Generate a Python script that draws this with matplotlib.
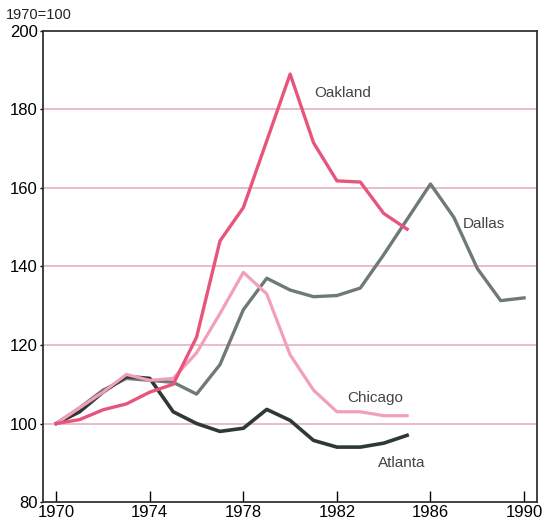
import matplotlib.pyplot as plt

years = list(range(1970, 1991))

oakland = [100, 101, 103.5, 105, 108, 110, 122, 146.5, 155, 172, 189,
           171.5, 161.8, 161.5, 153.5, 149.5]
chicago = [100, 104, 108, 112.5, 111, 111.5, 118, 128, 138.5, 133, 117.5,
           108.5, 103, 103, 102, 102]
dallas = [100, 104, 108.5, 111.5, 111, 110.5, 107.5, 115, 129, 137, 134,
          132.3, 132.6, 134.5, 143, 152, 161, 152.5, 139.5, 131.3, 132]
atlanta = [100, 103, 108, 112, 111.5, 103, 100, 98, 98.8, 103.6, 100.8,
           95.7, 94, 94, 95, 97]

yticks = [80, 100, 120, 140, 160, 180, 200]
xticks = [1970, 1974, 1978, 1982, 1986, 1990]

plt.rcParams['font.family'] = ['Liberation Sans', 'DejaVu Sans']

fig = plt.figure(figsize=(5.49, 5.23), dpi=100)
ax = fig.add_axes([0.079, 0.040, 0.899, 0.901])

for y in [100, 120, 140, 160, 180]:
    ax.axhline(y, color='#e3a9c2', lw=1.1, zorder=1)

ax.plot(years[:len(dallas)], dallas, color='#6f7a77', lw=2.4, zorder=3)
ax.plot(years[:len(atlanta)], atlanta, color='#2e3935', lw=2.6, zorder=4)
ax.plot(years[:len(chicago)], chicago, color='#f29fba', lw=2.3, zorder=5)
ax.plot(years[:len(oakland)], oakland, color='#e8557c', lw=2.4, zorder=6)

# series labels
lab = dict(fontsize=11, color='#444444')
ax.text(1981.05, 183.2, 'Oakland', **lab)
ax.text(1987.4, 149.8, 'Dallas', **lab)
ax.text(1982.45, 105.5, 'Chicago', **lab)
ax.text(1983.75, 88.9, 'Atlanta', **lab)

ax.set_xlim(1969.45, 1990.55)
ax.set_ylim(80, 200)
ax.set_xticks(xticks)
ax.set_yticks(yticks)
ax.tick_params(axis='x', direction='in', length=8, width=1, labelsize=12, pad=2)
ax.tick_params(axis='y', direction='out', length=2, width=1, labelsize=12, pad=2)
for s in ax.spines.values():
    s.set_linewidth(1.3)
    s.set_color('#333333')

fig.text(0.01, 0.963, '1970=100', fontsize=10.5, color='#222222')

fig.savefig('out.png', dpi=100)
